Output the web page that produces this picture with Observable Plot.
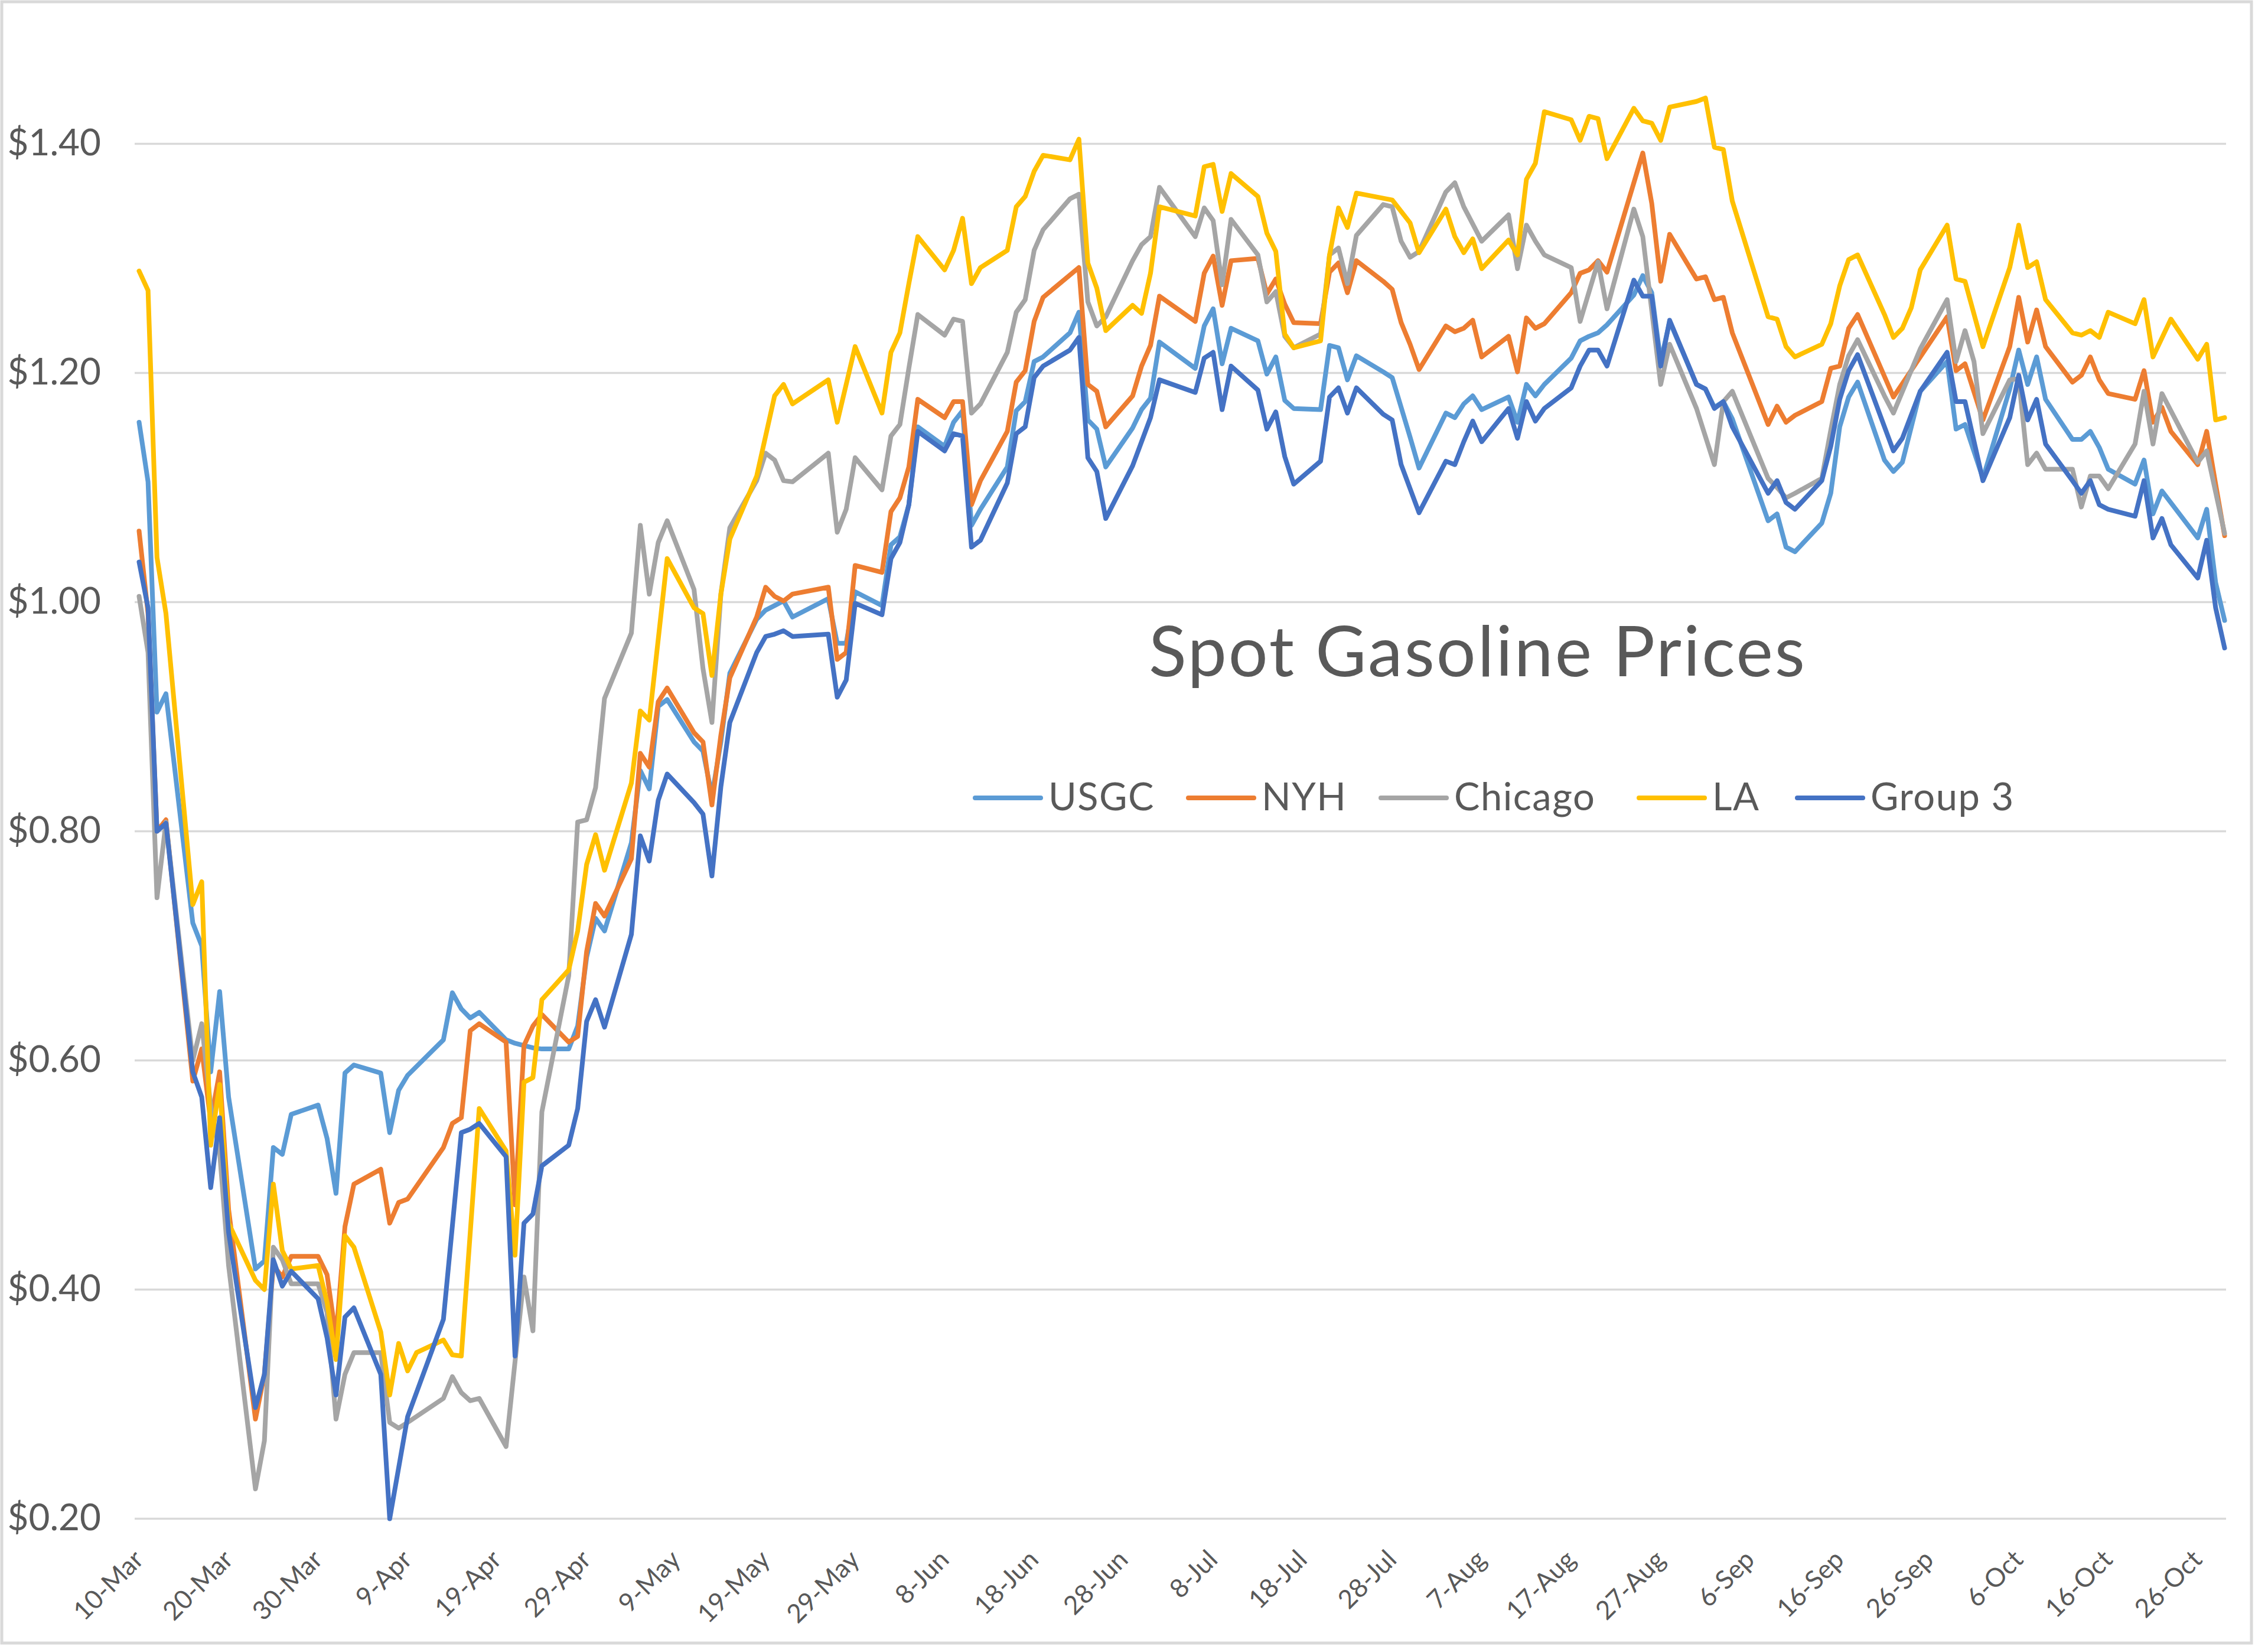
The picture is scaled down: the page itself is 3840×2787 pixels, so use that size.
<!DOCTYPE html>
<html><head><meta charset="utf-8">
<script src="https://cdn.jsdelivr.net/npm/d3@7"></script>
<script src="https://cdn.jsdelivr.net/npm/@observablehq/plot@0.6"></script>
<style>
html,body{margin:0;padding:0;background:#fff;}
#chart{position:relative;width:3840px;height:2787px;overflow:hidden;}
</style></head><body><div id="chart"></div>
<script>
// Spot gasoline prices, $/gal. Each pair: [days since 10-Mar-2020, price]
const seriesNames = ["USGC", "NYH", "Chicago", "LA", "Group 3"];
const seriesColors = ["#5B9BD5", "#ED7D31", "#A5A5A5", "#FFC000", "#4472C4"];

const USGC = [[0,1.157],[1,1.105],[2,0.904],[3,0.92],[6,0.72],[7,0.70],[8,0.59],[9,0.66],[10,0.568],[13,0.418],[14,0.425],[15,0.524],[16,0.518],[17,0.553],[20,0.561],[21,0.532],[22,0.484],[23,0.589],[24,0.596],[27,0.589],[28,0.537],[29,0.574],[30,0.587],[34,0.618],[35,0.659],[36,0.645],[37,0.637],[38,0.642],[41,0.618],[42,0.615],[43,0.613],[44,0.611],[45,0.61],[48,0.61],[49,0.63],[50,0.69],[51,0.724],[52,0.713],[55,0.79],[56,0.853],[57,0.837],[58,0.909],[59,0.915],[62,0.878],[63,0.87],[64,0.831],[65,0.878],[66,0.938],[69,0.985],[70,0.993],[71,0.997],[72,1.001],[73,0.987],[77,1.003],[78,0.964],[79,0.964],[80,1.009],[83,0.997],[84,1.05],[85,1.057],[86,1.085],[87,1.153],[90,1.136],[91,1.157],[92,1.167],[93,1.067],[94,1.081],[97,1.118],[98,1.167],[99,1.175],[100,1.21],[101,1.214],[104,1.235],[105,1.253],[106,1.159],[107,1.151],[108,1.118],[111,1.152],[112,1.168],[113,1.178],[114,1.227],[118,1.204],[119,1.241],[120,1.256],[121,1.208],[122,1.239],[125,1.228],[126,1.199],[127,1.214],[128,1.176],[129,1.169],[132,1.168],[133,1.224],[134,1.222],[135,1.194],[136,1.215],[139,1.201],[140,1.196],[141,1.17],[142,1.144],[143,1.117],[146,1.165],[147,1.161],[148,1.173],[149,1.18],[150,1.168],[153,1.179],[154,1.157],[155,1.19],[156,1.18],[157,1.19],[160,1.213],[161,1.228],[162,1.232],[163,1.235],[164,1.242],[167,1.268],[168,1.285],[169,1.27],[170,1.21],[171,1.245],[174,1.19],[175,1.186],[176,1.17],[177,1.175],[178,1.16],[182,1.071],[183,1.077],[184,1.048],[185,1.044],[188,1.069],[189,1.095],[190,1.153],[191,1.179],[192,1.192],[195,1.124],[196,1.114],[197,1.122],[199,1.184],[202,1.21],[203,1.151],[204,1.155],[206,1.108],[209,1.186],[210,1.22],[211,1.19],[212,1.214],[213,1.177],[216,1.142],[217,1.142],[218,1.149],[219,1.135],[220,1.116],[223,1.103],[224,1.124],[225,1.077],[226,1.097],[230,1.056],[231,1.081],[232,1.017],[233,0.984]];

const NYH = [[0,1.062],[1,0.99],[2,0.80],[3,0.81],[6,0.582],[7,0.61],[8,0.547],[9,0.59],[10,0.47],[13,0.287],[14,0.326],[15,0.421],[16,0.411],[17,0.429],[20,0.429],[21,0.413],[22,0.358],[23,0.455],[24,0.492],[27,0.505],[28,0.458],[29,0.476],[30,0.479],[34,0.524],[35,0.545],[36,0.55],[37,0.626],[38,0.632],[41,0.616],[42,0.474],[43,0.613],[44,0.63],[45,0.64],[48,0.616],[49,0.621],[50,0.695],[51,0.737],[52,0.726],[55,0.776],[56,0.868],[57,0.856],[58,0.913],[59,0.925],[62,0.886],[63,0.878],[64,0.823],[65,0.884],[66,0.934],[69,0.987],[70,1.013],[71,1.005],[72,1.001],[73,1.007],[77,1.013],[78,0.95],[79,0.956],[80,1.032],[83,1.026],[84,1.079],[85,1.091],[86,1.118],[87,1.177],[90,1.161],[91,1.175],[92,1.175],[93,1.085],[94,1.106],[97,1.149],[98,1.192],[99,1.202],[100,1.245],[101,1.266],[105,1.292],[106,1.19],[107,1.184],[108,1.153],[111,1.18],[112,1.206],[113,1.224],[114,1.267],[118,1.245],[119,1.287],[120,1.302],[121,1.259],[122,1.298],[125,1.30],[126,1.269],[127,1.282],[128,1.26],[129,1.244],[132,1.243],[133,1.288],[134,1.296],[135,1.27],[136,1.298],[139,1.28],[140,1.273],[141,1.244],[142,1.225],[143,1.203],[146,1.241],[147,1.236],[148,1.239],[149,1.246],[150,1.214],[153,1.232],[154,1.201],[155,1.248],[156,1.239],[157,1.243],[160,1.27],[161,1.287],[162,1.29],[163,1.298],[164,1.288],[168,1.392],[169,1.348],[170,1.28],[171,1.321],[174,1.282],[175,1.284],[176,1.264],[177,1.266],[178,1.235],[182,1.155],[183,1.171],[184,1.157],[185,1.163],[188,1.175],[189,1.204],[190,1.206],[191,1.239],[192,1.251],[196,1.179],[202,1.249],[203,1.202],[204,1.208],[206,1.159],[209,1.223],[210,1.266],[211,1.227],[212,1.255],[213,1.223],[216,1.192],[217,1.198],[218,1.214],[219,1.194],[220,1.182],[223,1.177],[224,1.202],[225,1.157],[226,1.17],[227,1.149],[230,1.12],[231,1.149],[232,1.103],[233,1.058]];

const CHICAGO = [[0,1.005],[1,0.956],[2,0.742],[3,0.808],[6,0.60],[7,0.632],[8,0.56],[9,0.52],[10,0.421],[13,0.226],[14,0.268],[15,0.437],[16,0.426],[17,0.405],[20,0.405],[21,0.38],[22,0.287],[23,0.326],[24,0.345],[27,0.345],[28,0.284],[29,0.279],[30,0.284],[34,0.305],[35,0.324],[36,0.31],[37,0.303],[38,0.305],[41,0.263],[43,0.411],[44,0.364],[45,0.555],[48,0.674],[49,0.808],[50,0.81],[51,0.838],[52,0.916],[55,0.973],[56,1.067],[57,1.007],[58,1.052],[59,1.071],[62,1.011],[63,0.942],[64,0.895],[65,1.007],[66,1.065],[69,1.106],[70,1.13],[71,1.124],[72,1.106],[73,1.105],[77,1.13],[78,1.061],[79,1.081],[80,1.126],[83,1.098],[84,1.145],[85,1.155],[86,1.204],[87,1.251],[90,1.233],[91,1.247],[92,1.245],[93,1.165],[94,1.173],[97,1.218],[98,1.253],[99,1.264],[100,1.307],[101,1.325],[104,1.352],[105,1.356],[106,1.262],[107,1.241],[108,1.249],[111,1.298],[112,1.312],[113,1.319],[114,1.362],[118,1.319],[119,1.344],[120,1.333],[121,1.277],[122,1.334],[125,1.303],[126,1.262],[127,1.271],[128,1.232],[129,1.222],[132,1.234],[133,1.303],[134,1.309],[135,1.278],[136,1.32],[139,1.347],[140,1.345],[141,1.315],[142,1.301],[143,1.306],[146,1.358],[147,1.366],[148,1.345],[150,1.315],[153,1.338],[154,1.291],[155,1.329],[156,1.315],[157,1.303],[160,1.292],[161,1.245],[163,1.297],[164,1.256],[167,1.343],[168,1.319],[170,1.19],[171,1.225],[174,1.169],[176,1.12],[177,1.175],[178,1.184],[182,1.108],[183,1.10],[184,1.091],[185,1.095],[188,1.108],[189,1.15],[190,1.19],[191,1.215],[192,1.229],[195,1.18],[196,1.165],[199,1.221],[202,1.264],[203,1.21],[204,1.237],[205,1.21],[206,1.147],[209,1.194],[210,1.195],[211,1.12],[212,1.13],[213,1.116],[216,1.116],[217,1.083],[218,1.11],[219,1.11],[220,1.099],[223,1.138],[224,1.184],[225,1.138],[226,1.182],[230,1.122],[231,1.132],[233,1.06]];

const LA = [[0,1.289],[1,1.272],[2,1.039],[3,0.99],[6,0.736],[7,0.756],[8,0.526],[9,0.579],[10,0.458],[13,0.408],[14,0.40],[15,0.492],[16,0.434],[17,0.418],[20,0.421],[21,0.389],[22,0.339],[23,0.447],[24,0.437],[27,0.363],[28,0.308],[29,0.353],[30,0.329],[31,0.345],[34,0.356],[35,0.343],[36,0.342],[38,0.558],[41,0.521],[42,0.43],[43,0.581],[44,0.585],[45,0.653],[48,0.679],[49,0.713],[50,0.771],[51,0.797],[52,0.766],[55,0.842],[56,0.905],[57,0.897],[59,1.038],[62,0.995],[63,0.99],[64,0.936],[65,1.007],[66,1.055],[69,1.11],[71,1.18],[72,1.19],[73,1.173],[77,1.194],[78,1.157],[80,1.223],[83,1.165],[84,1.218],[85,1.235],[86,1.278],[87,1.319],[90,1.29],[91,1.307],[92,1.335],[93,1.278],[94,1.292],[97,1.307],[98,1.345],[99,1.354],[100,1.376],[101,1.39],[104,1.386],[105,1.404],[106,1.296],[107,1.274],[108,1.237],[111,1.259],[112,1.252],[113,1.287],[114,1.345],[118,1.337],[119,1.38],[120,1.382],[121,1.341],[122,1.374],[125,1.354],[126,1.322],[127,1.306],[128,1.234],[129,1.222],[132,1.228],[133,1.303],[134,1.344],[135,1.327],[136,1.357],[140,1.351],[142,1.331],[143,1.305],[146,1.343],[147,1.319],[148,1.305],[149,1.317],[150,1.291],[153,1.316],[154,1.303],[155,1.369],[156,1.383],[157,1.428],[160,1.421],[161,1.403],[162,1.424],[163,1.422],[164,1.387],[167,1.431],[168,1.42],[169,1.418],[170,1.403],[171,1.432],[174,1.437],[175,1.44],[176,1.397],[177,1.395],[178,1.35],[182,1.249],[183,1.247],[184,1.223],[185,1.214],[188,1.225],[189,1.243],[190,1.276],[191,1.299],[192,1.303],[195,1.251],[196,1.231],[197,1.239],[198,1.257],[199,1.29],[202,1.329],[203,1.282],[204,1.28],[206,1.223],[209,1.292],[210,1.329],[211,1.292],[212,1.297],[213,1.264],[216,1.235],[217,1.233],[218,1.237],[219,1.231],[220,1.253],[223,1.243],[224,1.264],[225,1.214],[227,1.247],[230,1.212],[231,1.225],[232,1.159],[233,1.161]];

const GROUP3 = [[0,1.035],[1,0.995],[2,0.80],[3,0.807],[6,0.59],[7,0.568],[8,0.489],[9,0.55],[10,0.45],[13,0.297],[14,0.326],[15,0.426],[16,0.403],[17,0.416],[20,0.392],[21,0.358],[22,0.308],[23,0.376],[24,0.384],[27,0.326],[28,0.20],[30,0.289],[34,0.374],[36,0.537],[37,0.54],[38,0.545],[41,0.516],[42,0.342],[43,0.458],[44,0.466],[45,0.508],[48,0.526],[49,0.558],[50,0.634],[51,0.653],[52,0.629],[55,0.71],[56,0.796],[57,0.774],[58,0.827],[59,0.85],[62,0.825],[63,0.815],[64,0.761],[65,0.839],[66,0.895],[69,0.956],[70,0.97],[71,0.972],[72,0.975],[73,0.97],[77,0.972],[78,0.917],[79,0.932],[80,0.999],[83,0.989],[84,1.038],[85,1.052],[86,1.085],[87,1.149],[90,1.132],[91,1.147],[92,1.145],[93,1.048],[94,1.054],[97,1.104],[98,1.147],[99,1.153],[100,1.196],[101,1.206],[104,1.22],[105,1.231],[106,1.126],[107,1.114],[108,1.073],[111,1.119],[112,1.14],[113,1.161],[114,1.194],[118,1.183],[119,1.213],[120,1.218],[121,1.168],[122,1.206],[125,1.185],[126,1.151],[127,1.166],[128,1.127],[129,1.103],[132,1.123],[133,1.179],[134,1.187],[135,1.165],[136,1.187],[139,1.164],[140,1.159],[141,1.12],[143,1.078],[146,1.123],[147,1.12],[148,1.14],[149,1.158],[150,1.14],[153,1.169],[154,1.143],[155,1.175],[156,1.158],[157,1.169],[160,1.187],[161,1.206],[162,1.22],[163,1.22],[164,1.206],[167,1.281],[168,1.267],[169,1.267],[170,1.206],[171,1.246],[174,1.19],[175,1.186],[176,1.169],[177,1.175],[178,1.153],[182,1.095],[183,1.106],[184,1.087],[185,1.081],[188,1.106],[189,1.136],[190,1.177],[191,1.202],[192,1.216],[196,1.132],[197,1.143],[199,1.184],[202,1.218],[203,1.175],[204,1.175],[206,1.106],[209,1.161],[210,1.198],[211,1.159],[212,1.177],[213,1.138],[216,1.106],[217,1.095],[218,1.106],[219,1.085],[220,1.081],[223,1.075],[224,1.106],[225,1.056],[226,1.073],[227,1.05],[230,1.021],[231,1.054],[232,0.995],[233,0.96]];

const xTickLabels = ["10-Mar","20-Mar","30-Mar","9-Apr","19-Apr","29-Apr","9-May","19-May","29-May","8-Jun","18-Jun","28-Jun","8-Jul","18-Jul","28-Jul","7-Aug","17-Aug","27-Aug","6-Sep","16-Sep","26-Sep","6-Oct","16-Oct","26-Oct"];
const yTicks = [0.2, 0.4, 0.6, 0.8, 1.0, 1.2, 1.4];
const chartTitle = "Spot Gasoline Prices";

// ---- build table ----
const toDate = d => new Date(2020, 2, 10 + d);
const rows = [];
[USGC, NYH, CHICAGO, LA, GROUP3].forEach((s, i) =>
  s.forEach(([d, v]) => rows.push({series: seriesNames[i], date: toDate(d), value: v})));
const parse = d3.timeParse("%d-%b-%Y");
const xTicks = xTickLabels.map(s => parse(s + "-2020"));
const fmtX = d3.timeFormat("%-d-%b");

const W = 3840, H = 2787;
const FONT = "Lato, 'Open Sans', sans-serif";
const TXT = "#595959";

const svg = Plot.plot({
  width: W, height: H,
  marginLeft: 228, marginRight: 71, marginTop: 243, marginBottom: 216,
  style: {fontFamily: FONT, background: "white", overflow: "visible"},
  x: {type: "time", domain: [toDate(0), toDate(233)], insetLeft: 7, insetRight: 3, axis: null},
  y: {domain: [0.2, 1.4], axis: null},
  color: {domain: seriesNames, range: seriesColors},
  marks: [
    Plot.gridY(yTicks, {stroke: "#D9D9D9", strokeOpacity: 1, strokeWidth: 3.5}),
    Plot.text(yTicks, {y: d => d, text: d => "$" + d.toFixed(2), frameAnchor: "left", dx: -216,
      textAnchor: "start", fontSize: 62, fill: TXT}),
    Plot.text(xTicks, {x: d => d, text: d => fmtX(d), frameAnchor: "bottom", dy: 62, rotate: -45,
      textAnchor: "end", lineAnchor: "middle", fontSize: 44, fill: TXT}),
    Plot.line(rows, {x: "date", y: "value", z: "series", stroke: "series", strokeWidth: 8,
      strokeLinejoin: "round", strokeLinecap: "round"})
  ]
});
document.getElementById("chart").appendChild(svg);

// chart frame, title and legend (inside the plot, as in the original)
const s = d3.select(svg);
s.append("rect").attr("x", 3).attr("y", 3).attr("width", 3809).attr("height", 2779)
  .attr("fill", "none").attr("stroke", "#D9D9D9").attr("stroke-width", 5);
s.append("text").attr("x", 1945).attr("y", 1145).attr("fill", TXT).attr("text-anchor", "start")
  .attr("font-family", FONT).attr("font-size", 118).attr("letter-spacing", 3).text(chartTitle);

// legend entries, laid out left to right as in the original
const legendX = [1651, 2012, 2338, 2775, 3043];
const lg = s.append("g").attr("font-family", FONT).attr("font-size", 65).attr("fill", TXT)
  .attr("text-anchor", "start");
seriesNames.forEach((name, i) => {
  const lx = legendX[i];
  lg.append("line").attr("x1", lx).attr("x2", lx + 111).attr("y1", 1351).attr("y2", 1351)
    .attr("stroke", seriesColors[i]).attr("stroke-width", 8).attr("stroke-linecap", "round");
  lg.append("text").attr("x", lx + 124).attr("y", 1372).attr("text-anchor", "start")
    .attr("letter-spacing", 1.5).text(name);
});
</script></body></html>
